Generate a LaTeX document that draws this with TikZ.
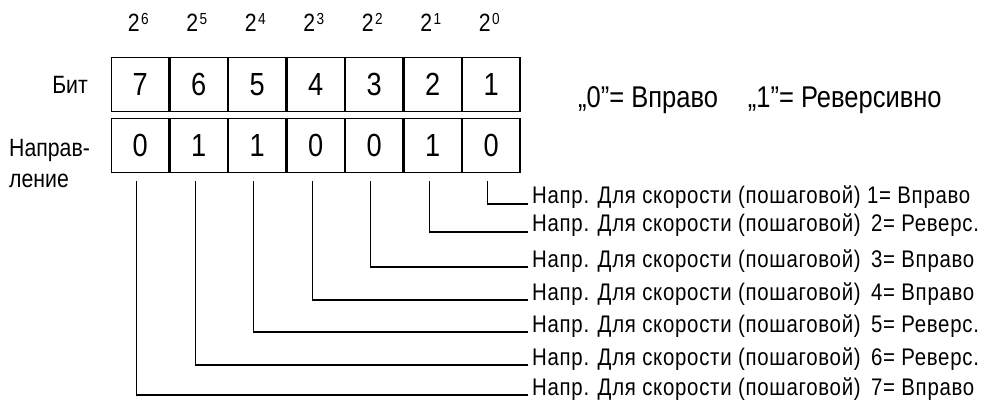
\documentclass[tikz,border=0pt]{standalone}
\usepackage{fontspec}
\setmainfont{Liberation Sans}[FakeStretch=0.85]
\newfontfamily\notefont{Liberation Sans}[FakeStretch=0.85,LetterSpace=3]
\newcommand{\pw}[1]{\fontsize{25}{25}\selectfont 2\kern1.5pt\raisebox{7pt}{\fontsize{16}{16}\selectfont #1}}
\usetikzlibrary{positioning}

\begin{document}
\begin{tikzpicture}[
  x=1pt,y=-1pt,
  cell/.style={
    draw,
    line width=1.1pt,
    minimum width=57.4pt,
    minimum height=54pt,
    inner sep=0pt,
    font=\fontsize{32}{32}\selectfont
  },
  weight/.style={anchor=base,inner sep=0pt},
  rowlabel/.style={inner sep=0pt,font=\fontsize{25}{31}\selectfont},
  note/.style={
    anchor=base west,
    inner xsep=4pt,
    inner ysep=0pt,
    font=\notefont\fontsize{24}{24}\selectfont
  },
  lead/.style={line width=1.1pt}
]
\useasboundingbox (0,0) rectangle (989,401);
% bit numbers
\node[cell,anchor=north west] (b7) at (111,57) {7};
\node[cell,right=0pt of b7] (b6) {6};
\node[cell,right=0pt of b6] (b5) {5};
\node[cell,right=0pt of b5] (b4) {4};
\node[cell,right=0pt of b4] (b3) {3};
\node[cell,right=0pt of b3] (b2) {2};
\node[cell,right=0pt of b2] (b1) {1};
% direction bits
\node[cell,below=6pt of b7] (d7) {0};
\node[cell,right=0pt of d7] (d6) {1};
\node[cell,right=0pt of d6] (d5) {1};
\node[cell,right=0pt of d5] (d4) {0};
\node[cell,right=0pt of d4] (d3) {0};
\node[cell,right=0pt of d3] (d2) {1};
\node[cell,right=0pt of d2] (d1) {0};
% weights
\node[weight] (w6) at ([xshift=-2pt,yshift=25pt]b7.north) {\pw{6}};
\node[weight] (w5) at ([xshift=-2pt,yshift=25pt]b6.north) {\pw{5}};
\node[weight] (w4) at ([xshift=-2pt,yshift=25pt]b5.north) {\pw{4}};
\node[weight] (w3) at ([xshift=-2pt,yshift=25pt]b4.north) {\pw{3}};
\node[weight] (w2) at ([xshift=-2pt,yshift=25pt]b3.north) {\pw{2}};
\node[weight] (w1) at ([xshift=-2pt,yshift=25pt]b2.north) {\pw{1}};
\node[weight] (w0) at ([xshift=-2pt,yshift=25pt]b1.north) {\pw{0}};
% row labels
\node[rowlabel,left=23pt of b7] (bitlbl) {Бит};
\node[rowlabel,align=left,anchor=west] (dirlbl) at (9,164) {Направ-\\ление};
\node[font=\fontsize{30}{30}\selectfont,inner sep=0pt,anchor=base west] (legend)
  at (578,108) {„0”= Вправо\quad „1”= Реверсивно};
% descriptions
\node[note] (t1) at (528,204) {Напр. Для скорости (пошаговой) 1= Вправо};
\node[note] (t2) at (528,232) {Напр. Для скорости (пошаговой)\, 2= Реверс.};
\node[note] (t3) at (528,267) {Напр. Для скорости (пошаговой)\, 3= Вправо};
\node[note] (t4) at (528,300) {Напр. Для скорости (пошаговой)\, 4= Вправо};
\node[note] (t5) at (528,332) {Напр. Для скорости (пошаговой)\, 5= Реверс.};
\node[note] (t6) at (528,365) {Напр. Для скорости (пошаговой)\, 6= Реверс.};
\node[note] (t7) at (528,395) {Напр. Для скорости (пошаговой)\, 7= Вправо};
% leads
\draw[lead] ([xshift=-3.5pt,yshift=-8pt]d1.south) |- (t1.base west);
\draw[lead] ([xshift=-3.5pt,yshift=-8pt]d2.south) |- (t2.base west);
\draw[lead] ([xshift=-3.5pt,yshift=-8pt]d3.south) |- (t3.base west);
\draw[lead] ([xshift=-3.5pt,yshift=-8pt]d4.south) |- (t4.base west);
\draw[lead] ([xshift=-3.5pt,yshift=-8pt]d5.south) |- (t5.base west);
\draw[lead] ([xshift=-3.5pt,yshift=-8pt]d6.south) |- (t6.base west);
\draw[lead] ([xshift=-3.5pt,yshift=-8pt]d7.south) |- (t7.base west);
\end{tikzpicture}
\end{document}
